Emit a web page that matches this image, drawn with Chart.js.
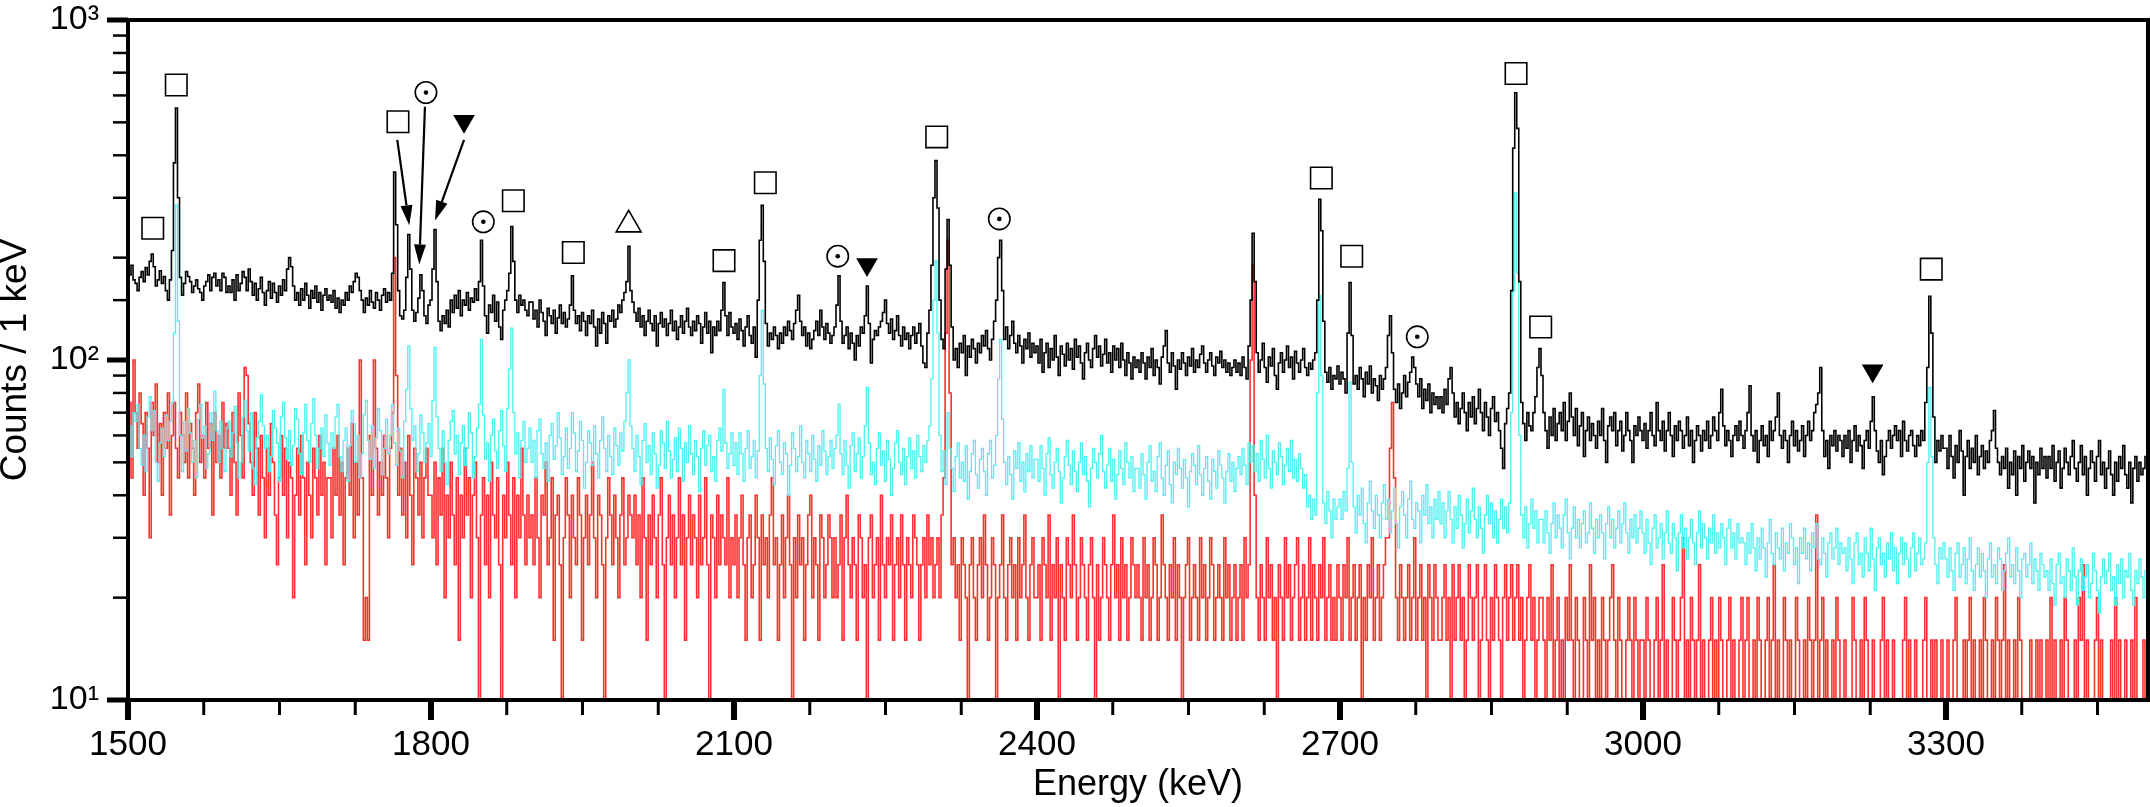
<!DOCTYPE html>
<html>
<head>
<meta charset="utf-8">
<script src="https://cdn.jsdelivr.net/npm/chart.js@4/dist/chart.umd.min.js"></script>
<style>
  body { margin: 0; background: #fff; }
  canvas { display: block; }
</style>
</head>
<body>
<canvas id="spectrum" width="2150" height="807"></canvas>
<script>
// Spectrum bins: 2 keV wide, one row per 100 keV starting at 1500 keV
const energyStart = 1500;
const binWidth = 2;
const rowSpan = 100;

const blackRows = [
    [185,178,190,172,168,160,175,182,170,187,178,195,205,188,165,172,183,168,176,160,150,172,210,380,551,300,175,155,168,182,176,170,158,165,172,162,158,150,165,170,178,160,175,180,165,172,160,180,175,158],
    [165,158,172,150,178,160,168,182,175,160,185,170,155,168,150,162,175,158,145,160,170,152,168,158,148,165,155,172,160,185,200,188,165,150,158,145,162,150,168,155,142,160,152,165,148,158,140,155,162,150],
    [155,148,160,142,152,138,150,145,158,150,165,158,170,180,175,160,150,138,152,145,160,148,142,158,150,140,155,162,148,158,150,180,357,250,160,135,132,140,175,234,185,140,130,138,152,178,160,135,128,145],
    [150,185,242,170,130,122,135,128,140,125,150,138,155,142,160,135,150,145,158,140,152,148,162,150,170,225,165,135,120,145,138,155,130,148,125,115,140,150,160,180,247,195,150,138,155,145,150,140,135,148],
    [148,132,140,125,150,138,130,118,142,135,128,140,120,133,145,128,138,125,132,145,177,140,128,135,122,138,130,118,135,128,140,125,110,132,120,138,128,112,135,130,140,125,132,145,138,150,158,170,216,160],
    [148,138,130,142,125,135,118,130,140,128,122,135,110,128,138,125,132,118,128,140,122,130,115,125,135,120,130,142,125,118,130,122,135,128,112,125,138,120,130,105,125,118,130,122,140,169,135,118,138,125],
    [120,128,115,132,122,110,125,135,118,112,125,102,150,225,285,195,128,110,120,115,125,118,108,120,112,125,118,130,122,115,128,140,155,130,118,125,110,120,108,115,122,130,118,140,125,115,128,120,112,118],
    [125,145,177,130,112,118,125,108,120,112,100,118,110,125,120,135,165,128,98,115,122,118,125,130,138,150,128,120,132,115,122,135,118,110,125,115,120,108,118,125,112,120,128,110,98,95,120,140,190,300],
    [386,280,150,115,108,185,259,190,125,100,108,95,112,105,118,90,110,102,115,108,98,112,105,118,110,122,108,100,115,130,150,200,225,160,115,125,108,118,130,112,105,118,110,98,115,108,120,102,112,105],
    [110,98,115,92,105,112,95,108,100,118,102,90,110,104,96,112,100,108,94,115,102,110,98,88,105,112,100,95,108,118,102,110,96,104,115,98,105,92,110,100,108,95,112,100,90,105,98,88,102,95],
    [100,92,105,98,88,102,95,108,90,100,95,85,102,110,122,98,92,105,96,82,100,94,105,98,90,102,96,108,92,100,95,104,110,98,92,100,105,96,90,102,98,106,95,100,92,98,90,95,100,92],
    [98,90,102,95,88,110,150,236,170,105,92,100,112,95,86,102,96,108,90,82,98,105,92,100,110,95,102,88,106,98,92,100,108,95,90,98,94,100,105,150,297,240,130,92,86,95,82,90,88,96],
    [85,92,88,80,120,169,118,85,90,82,95,88,78,92,85,96,80,88,84,76,90,82,88,95,118,135,105,82,75,85,72,80,90,78,86,92,102,95,85,78,88,72,82,76,85,70,80,74,78,72],
    [78,70,82,74,88,95,80,68,75,65,72,80,70,62,75,68,78,65,72,82,70,62,75,68,60,72,78,66,70,62,55,48,65,72,80,160,420,611,480,170,75,65,58,70,64,62,70,78,95,108],
    [90,70,62,55,68,60,72,58,65,70,62,75,58,66,80,68,60,72,56,64,70,52,62,68,58,65,60,55,66,60,72,58,50,64,68,62,70,56,62,66,54,60,70,62,58,50,64,60,68,62],
    [58,65,55,62,70,60,56,75,62,58,66,54,62,70,60,52,64,58,66,62,55,60,68,56,62,50,58,64,60,54,62,58,66,55,60,68,62,58,70,82,64,56,62,58,52,60,64,58,66,60],
    [55,62,70,84,60,54,62,50,58,64,56,60,52,66,58,62,68,80,60,55,62,58,50,60,66,56,62,54,58,64,52,60,66,58,62,70,74,80,95,62,52,58,48,60,56,62,54,60,58,52],
    [60,55,62,50,58,64,54,60,56,48,58,62,55,66,78,62,54,50,58,46,52,58,62,55,60,64,58,62,52,66,58,54,60,62,56,52,60,56,62,58,75,95,154,120,68,50,58,54,60,55],
    [55,48,60,52,45,56,50,62,54,40,52,58,48,55,50,60,46,52,56,48,54,50,58,62,71,55,50,46,52,48,55,42,50,46,54,40,52,48,56,44,50,54,48,52,38,50,46,55,48,52],
    [45,52,48,56,44,50,54,42,48,55,50,46,52,58,48,44,50,56,46,52,40,48,54,50,44,52,58,46,50,42,48,54,46,40,50,44,52,48,56,46,42,50,38,48,52,44,50,46,48,52]
];

const cyanRows = [
    [58,64,52,70,66,74,55,49,60,47,68,78,62,71,50,44,57,63,52,69,58,66,75,120,286,130,60,47,66,54,72,61,50,58,45,67,74,59,64,48,53,70,58,81,62,50,66,55,47,63],
    [66,52,61,73,57,45,50,68,76,62,54,70,48,43,59,66,79,64,55,60,47,52,71,63,57,44,68,75,59,51,62,49,56,72,67,53,46,61,74,58,50,65,77,60,48,55,63,52,69,57],
    [49,61,55,68,74,52,47,58,63,44,56,71,65,50,60,45,53,69,76,58,51,64,48,59,72,62,46,55,67,53,60,74,57,49,63,54,45,66,82,110,72,58,64,47,53,69,61,50,57,65],
    [52,76,109,68,55,47,62,50,43,58,66,71,53,60,46,57,64,49,55,70,61,45,52,63,74,115,69,51,57,44,60,67,54,48,62,71,56,47,72,94,124,70,53,61,45,58,66,50,55,63],
    [50,58,45,62,67,53,48,57,44,60,65,51,56,70,59,46,52,63,48,55,70,61,47,54,66,58,42,50,62,57,49,64,53,45,58,68,55,47,60,52,46,63,56,49,61,54,66,80,100,64],
    [55,47,60,52,43,58,65,50,56,46,61,53,42,49,62,57,48,66,54,45,51,59,47,63,55,44,57,50,64,53,46,58,52,41,55,62,49,56,60,47,52,44,58,63,54,82,57,48,53,61],
    [49,57,46,61,53,44,55,62,48,52,58,45,54,90,140,85,55,47,59,51,43,56,62,50,46,57,53,40,49,61,55,47,52,64,50,45,58,53,47,60,51,44,56,49,62,54,46,52,58,48],
    [55,60,74,53,46,58,49,42,56,61,47,53,59,45,52,64,83,57,46,50,43,55,61,49,54,44,58,51,40,48,57,62,50,46,55,43,52,59,48,54,45,60,52,47,56,50,58,64,88,150],
    [196,120,60,47,54,43,70,55,48,41,52,57,45,50,44,56,39,47,53,58,46,42,51,55,47,40,53,58,45,49,60,88,115,67,50,43,52,46,39,54,48,57,44,50,41,53,47,56,45,51],
    [51,44,56,48,40,53,59,46,42,50,55,47,38,45,52,58,49,43,54,47,41,50,57,46,52,44,37,48,55,50,45,53,60,47,42,49,55,44,51,39,46,54,48,43,57,50,45,52,41,48],
    [48,42,53,46,39,50,56,44,47,41,52,57,45,40,49,54,43,38,50,46,55,48,42,51,45,37,47,53,49,43,56,46,40,48,52,44,39,51,47,42,54,49,45,38,47,53,44,50,41,48],
    [52,46,55,49,43,57,50,56,47,53,44,58,51,45,60,48,42,54,50,46,57,52,43,49,55,47,58,45,51,44,53,48,42,46,37,40,34,39,35,80,155,90,38,33,41,36,30,39,34,37],
    [39,34,41,36,48,86,50,37,31,40,35,42,33,29,38,44,36,32,40,35,30,38,43,34,39,31,36,42,33,28,37,41,35,30,39,44,34,32,38,36,29,40,35,43,33,37,30,39,34,41],
    [33,38,30,36,41,34,29,37,32,40,35,28,33,39,31,36,42,34,30,37,32,27,35,40,33,38,30,36,29,34,39,32,37,31,38,70,160,310,180,60,35,30,37,28,33,39,32,36,29,34],
    [34,29,36,31,27,33,38,30,35,32,28,35,39,31,26,32,37,30,34,28,33,36,29,31,38,32,27,34,30,35,31,26,33,37,30,34,28,32,36,29,33,38,31,27,34,30,35,29,32,36],
    [31,27,34,29,25,32,35,28,30,33,26,31,36,29,27,33,30,24,31,35,28,32,26,30,34,29,25,31,36,28,33,30,26,32,29,35,27,31,28,33,30,25,32,34,28,31,26,33,29,30],
    [29,25,31,27,33,28,24,30,26,32,28,23,29,34,27,25,31,28,26,32,24,29,27,33,30,25,28,22,30,27,32,26,29,24,31,28,33,26,25,30,27,23,29,31,26,28,32,25,29,27],
    [28,24,30,26,22,29,31,25,27,23,30,27,24,32,26,21,28,30,25,27,23,29,26,31,24,28,22,27,30,25,29,26,23,28,31,24,27,30,25,26,29,50,83,52,30,25,22,28,26,29],
    [26,23,28,24,21,27,29,23,25,28,22,26,30,24,21,25,28,23,27,24,20,26,29,23,25,22,28,26,21,24,27,30,23,25,22,28,24,20,26,27,23,25,29,22,26,24,21,27,25,23],
    [24,21,26,22,19,25,27,22,23,20,26,24,21,28,23,19,24,26,21,23,25,20,22,27,24,21,18,23,26,22,24,27,21,23,19,25,22,26,20,24,23,27,21,19,24,22,26,23,20,24]
];

// red spectrum comes in steps of 5 counts; 5 sits below the axis floor
const redRows = [
    [60,75,45,100,70,55,80,65,40,70,55,30,75,60,85,50,65,40,70,55,80,35,60,75,55,45,70,60,50,80,45,65,55,40,70,85,50,60,45,75,55,65,35,70,50,60,45,75,55,65],
    [55,40,70,50,35,80,60,45,95,90,65,50,40,70,55,35,60,45,30,55,40,65,50,35,25,45,60,40,55,30,50,45,20,40,55,35,60,45,25,50,40,30,55,45,35,60,40,50,25,45],
    [45,30,55,40,60,35,50,25,45,55,40,65,30,50,35,100,45,15,20,15,60,40,100,55,35,50,40,60,45,30,55,70,200,90,40,55,35,50,30,60,40,25,55,45,35,50,30,45,55,40],
    [40,30,50,25,45,35,55,20,40,30,50,35,25,45,15,40,30,55,35,45,20,40,50,30,5,35,45,25,40,20,50,35,30,45,25,5,40,30,50,35,25,45,20,40,30,55,35,25,40,30],
    [35,25,45,30,20,40,35,50,25,30,45,15,35,40,25,5,30,45,35,20,40,30,25,45,35,15,30,40,25,35,50,30,20,40,35,25,5,30,45,35,25,40,30,20,35,45,25,30,40,35],
    [30,40,25,35,20,45,30,15,35,25,40,30,20,35,45,25,5,30,40,25,35,20,30,45,25,35,15,30,40,25,35,30,20,40,25,30,45,25,5,35,30,20,40,25,35,30,25,45,20,30],
    [25,35,20,30,40,25,15,30,35,20,25,40,30,15,35,25,30,20,35,45,25,30,15,25,35,20,30,40,25,5,30,20,35,25,30,15,25,35,40,20,30,25,15,35,30,20,25,35,30,20],
    [30,20,25,35,15,30,40,25,20,30,25,15,35,30,20,25,5,30,35,20,25,30,15,40,25,20,30,25,35,15,25,30,20,35,25,15,30,25,20,35,30,25,15,25,30,20,35,25,30,20],
    [25,30,20,35,45,120,225,80,25,30,20,25,15,30,25,20,5,25,30,20,15,25,30,20,35,25,15,20,30,25,5,20,25,35,20,15,25,30,20,25,15,30,20,25,35,20,15,25,30,20],
    [20,25,15,30,25,20,35,15,25,20,30,5,25,20,15,30,25,20,35,25,15,20,30,25,20,15,25,30,20,5,25,15,20,30,25,20,15,25,35,20,25,15,30,20,25,15,20,30,25,20],
    [25,20,15,30,20,25,15,20,30,25,15,20,35,25,20,15,25,20,30,15,25,20,5,20,25,30,15,20,25,20,15,30,20,25,15,20,30,25,15,20,25,20,15,30,20,25,15,20,25,15],
    [20,25,15,30,20,25,100,190,40,20,15,25,20,15,30,20,25,15,20,5,25,20,15,30,20,25,15,20,25,30,15,20,25,15,20,30,15,25,20,15,25,20,30,15,20,25,15,20,15,25],
    [20,15,25,20,30,15,20,25,15,20,25,5,20,15,25,20,30,15,20,25,15,20,25,30,30,55,75,45,20,15,25,20,15,20,25,15,20,30,15,20,25,15,20,5,25,20,15,25,20,15],
    [15,20,25,15,20,10,25,15,20,25,15,20,10,15,25,20,15,20,25,10,15,20,25,15,10,20,15,25,20,15,10,20,25,15,20,25,15,20,25,15,20,10,15,20,25,15,20,10,15,20],
    [20,15,10,20,15,25,10,15,20,5,15,10,20,15,25,15,10,20,15,5,10,20,15,10,25,15,20,10,15,5,20,15,10,15,20,25,15,10,20,15,10,5,15,20,15,10,20,15,10,15],
    [15,10,20,15,5,10,15,20,10,15,25,10,15,5,10,20,15,10,15,20,30,5,15,10,20,15,10,15,25,10,15,5,10,15,20,10,15,10,20,15,5,10,15,20,10,15,10,5,15,20],
    [10,15,20,10,5,15,10,20,15,10,5,15,20,10,15,25,10,15,5,10,20,15,10,15,5,10,20,15,10,5,15,10,20,15,10,15,35,10,15,20,10,15,5,10,15,10,20,15,5,10],
    [15,10,5,10,20,15,10,5,15,10,20,15,5,10,15,10,5,5,15,20,10,15,5,10,15,10,5,5,10,15,20,10,15,10,5,15,10,5,10,15,20,10,5,15,10,15,5,10,15,10],
    [10,15,5,10,15,20,10,5,5,15,10,15,20,10,15,5,10,15,10,20,15,10,5,15,10,20,15,10,15,25,10,15,5,10,15,10,20,15,10,5,5,10,15,10,5,15,10,15,5,10],
    [15,10,20,10,15,5,10,15,10,20,15,10,5,10,15,10,20,15,25,10,15,10,5,10,15,20,10,15,10,5,5,10,15,10,20,10,15,5,10,15,10,5,15,10,20,10,5,10,15,10]
];

// peak labels (energy in keV, counts where the symbol sits)
const squareEnergy = [1524.5, 1547.8, 1767.3, 1881.5, 1940.9, 2090.1, 2131, 2300.7, 2681.5, 2711.6, 2874.3, 2898.7, 3285.4];
const squareCounts = [244, 644, 502, 294, 207, 196, 332, 453, 343, 202, 696, 125, 185];
const dotEnergy = [1795, 1851.8, 2202.7, 2362.7, 2776.5];
const dotCounts = [612, 255, 202, 260, 117];
const downEnergy = [1832.7, 2231.7, 3227.4];
const downCounts = [504, 191, 93];
const upEnergy = [1995.7];
const upCounts = [250];

// arrows from the crowded labels down to their peaks
const arrowFromEnergy = [1766.6, 1794, 1832.7];
const arrowFromCounts = [444, 556, 444];
const arrowToEnergy = [1778.5, 1788.4, 1804];
const arrowToCounts = [249, 191, 257];

const xMin = 1500, xMax = 3500, xMinorStep = 75, xMajorStep = 300;
const supDigits = ['\u2070', '\u00B9', '\u00B2', '\u00B3'];

function rowsToPoints(rows) {
    const pts = [];
    rows.forEach((row, r) => {
        row.forEach((v, j) => {
            pts.push({ x: energyStart + r * rowSpan + j * binWidth, y: v });
        });
    });
    return pts;
}

function zipPoints(xs, ys) {
    return xs.map((x, i) => ({ x: x, y: ys[i] }));
}

function spectrumSet(rows, color, width, order) {
    return {
        type: 'line',
        data: rowsToPoints(rows),
        borderColor: color,
        borderWidth: width,
        stepped: 'middle',
        pointRadius: 0,
        fill: false,
        order: order,
        clip: 0,
    };
}

function markerSet(xs, ys, style, radius, extra) {
    return Object.assign({
        type: 'scatter',
        data: zipPoints(xs, ys),
        pointStyle: style,
        pointRadius: radius,
        pointBorderColor: '#000',
        pointBackgroundColor: 'rgba(0,0,0,0)',
        pointBorderWidth: 1.6,
        order: 0,
    }, extra || {});
}

// no extra room for tick labels: the plot box is placed by hand
function noScalePadding(scale) {
    scale.paddingTop = 0;
    scale.paddingBottom = 0;
    scale.paddingLeft = 0;
    scale.paddingRight = 0;
}

const frameAndTicks = {
    id: 'frameAndTicks',
    afterDraw(chart) {
        const ctx = chart.ctx;
        const a = chart.chartArea;
        const xs = chart.scales.x;
        const ys = chart.scales.y;
        ctx.save();
        ctx.strokeStyle = '#000';
        ctx.fillStyle = '#000';

        // arrows
        ctx.lineWidth = 2.2;
        arrowFromEnergy.forEach((e, i) => {
            const x0 = xs.getPixelForValue(e), y0 = ys.getPixelForValue(arrowFromCounts[i]);
            const x1 = xs.getPixelForValue(arrowToEnergy[i]), y1 = ys.getPixelForValue(arrowToCounts[i]);
            const ang = Math.atan2(y1 - y0, x1 - x0);
            const head = 20, half = 6;
            const bx = x1 - head * Math.cos(ang), by = y1 - head * Math.sin(ang);
            ctx.beginPath();
            ctx.moveTo(x0, y0);
            ctx.lineTo(bx, by);
            ctx.stroke();
            ctx.beginPath();
            ctx.moveTo(x1, y1);
            ctx.lineTo(bx + half * Math.sin(ang), by - half * Math.cos(ang));
            ctx.lineTo(bx - half * Math.sin(ang), by + half * Math.cos(ang));
            ctx.closePath();
            ctx.fill();
        });

        // y ticks, outside
        ys.ticks.forEach(t => {
            const p = ys.getPixelForValue(t.value);
            const e = Math.log10(t.value);
            const major = Math.abs(e - Math.round(e)) < 1e-6;
            ctx.lineWidth = major ? 5 : 2.5;
            ctx.beginPath();
            ctx.moveTo(a.left - (major ? 21 : 15), p);
            ctx.lineTo(a.left, p);
            ctx.stroke();
        });

        // x ticks, outside
        for (let v = xMin; v < xMax; v += xMinorStep) {
            const p = xs.getPixelForValue(v);
            const major = v % xMajorStep === 0;
            ctx.lineWidth = major ? 6 : 3;
            ctx.beginPath();
            ctx.moveTo(p, a.bottom);
            ctx.lineTo(p, a.bottom + (major ? 20 : 15));
            ctx.stroke();
        }

        ctx.lineWidth = 4;
        ctx.strokeRect(a.left, a.top, a.right - a.left, a.bottom - a.top);
        ctx.restore();
    }
};

Chart.defaults.font.family = "'Liberation Sans', Arial, sans-serif";
Chart.defaults.color = '#000';

const ctx = document.getElementById('spectrum').getContext('2d');
new Chart(ctx, {
    data: {
        datasets: [
            spectrumSet(redRows, '#ff3030', 1.6, 3),
            spectrumSet(cyanRows, '#50f0f0', 1.3, 2),
            spectrumSet(blackRows, '#000000', 1.6, 1),
            markerSet(squareEnergy, squareCounts, 'rect', 15.2),
            markerSet(dotEnergy, dotCounts, 'circle', 10.7),
            markerSet(dotEnergy, dotCounts, 'circle', 2.3, { pointBackgroundColor: '#000', pointBorderWidth: 0 }),
            markerSet(downEnergy, downCounts, 'triangle', 12.5, { pointRotation: 180, pointBackgroundColor: '#000', pointBorderWidth: 0 }),
            markerSet(upEnergy, upCounts, 'triangle', 14.4),
        ]
    },
    options: {
        responsive: false,
        devicePixelRatio: 1,
        animation: false,
        events: [],
        layout: { autoPadding: false, padding: { top: 20, right: 2, left: 0, bottom: 0 } },
        plugins: {
            legend: { display: false },
            tooltip: { enabled: false },
        },
        scales: {
            x: {
                type: 'linear',
                min: xMin,
                max: xMax,
                grid: { display: false, drawTicks: false },
                border: { display: false },
                ticks: {
                    stepSize: xMajorStep,
                    autoSkip: false,
                    maxRotation: 0,
                    padding: 24,
                    font: { size: 35 },
                    callback: v => (v % xMajorStep === 0 ? String(v) : ''),
                },
                title: { display: true, text: 'Energy (keV)', font: { size: 36 }, padding: 0 },
                afterFit(scale) {
                    scale.height = 107;
                    noScalePadding(scale);
                },
            },
            y: {
                type: 'logarithmic',
                min: 10,
                max: 1000,
                grid: { display: false, drawTicks: false },
                border: { display: false },
                ticks: {
                    autoSkip: false,
                    padding: 29,
                    font: { size: 34, lineHeight: 0.6 },
                    callback: v => {
                        const e = Math.log10(v);
                        return Math.abs(e - Math.round(e)) < 1e-6 ? '10' + supDigits[Math.round(e)] : '';
                    },
                },
                title: { display: true, text: 'Counts / 1 keV', font: { size: 37, lineHeight: 0.85 }, padding: 0 },
                afterFit(scale) {
                    scale.width = 128;
                    noScalePadding(scale);
                },
            },
        },
    },
    plugins: [frameAndTicks],
});
</script>
</body>
</html>
